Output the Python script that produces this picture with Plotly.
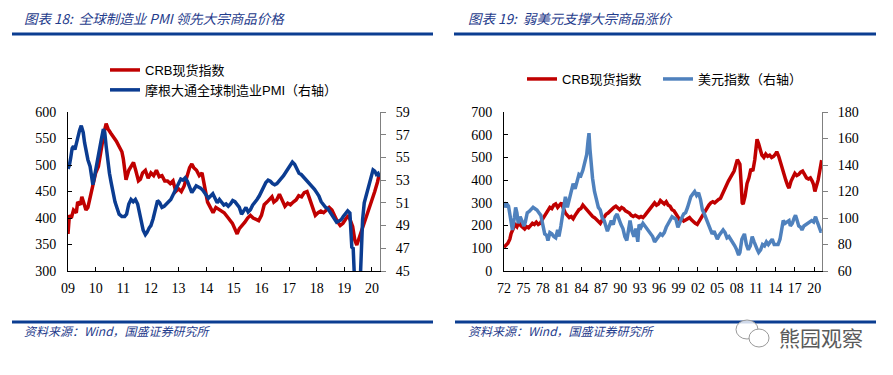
import plotly.graph_objects as go

# ---------------- Left chart data (x in chart-year coordinates) ----------------
crb_l_x = [2009.0, 2009.05, 2009.12, 2009.2, 2009.3, 2009.35, 2009.45, 2009.5, 2009.55, 2009.65,
           2009.72, 2009.8, 2009.9, 2010.0, 2010.1, 2010.2, 2010.3, 2010.38, 2010.45, 2010.55,
           2010.65, 2010.75, 2010.85, 2010.95, 2011.0, 2011.05, 2011.1, 2011.2, 2011.3, 2011.37,
           2011.45, 2011.55, 2011.62, 2011.7, 2011.8, 2011.9, 2012.0, 2012.1, 2012.2, 2012.3,
           2012.4, 2012.5, 2012.6, 2012.7, 2012.8, 2012.9, 2013.0, 2013.1, 2013.2, 2013.3,
           2013.4, 2013.48, 2013.55, 2013.65, 2013.75, 2013.85, 2013.95, 2014.05, 2014.15, 2014.25,
           2014.35, 2014.5, 2014.65, 2014.8, 2014.95, 2015.05, 2015.12, 2015.2, 2015.3, 2015.4,
           2015.5, 2015.6, 2015.7, 2015.8, 2015.9, 2016.0, 2016.1, 2016.2, 2016.3, 2016.38,
           2016.45, 2016.55, 2016.65, 2016.75, 2016.85, 2016.95, 2017.05, 2017.15, 2017.25, 2017.35,
           2017.45, 2017.55, 2017.65, 2017.72, 2017.8, 2017.88, 2017.95, 2018.05, 2018.15, 2018.25,
           2018.35, 2018.45, 2018.55, 2018.65, 2018.75, 2018.85, 2018.95, 2019.05, 2019.15, 2019.22,
           2019.3, 2019.38, 2019.45, 2019.52, 2019.6, 2019.7, 2019.8, 2019.9, 2020.0, 2020.1,
           2020.2, 2020.27]
crb_l_y = [370, 405, 400, 415, 410, 430, 425, 440, 432, 415,
           420, 440, 465, 485, 497, 530, 560, 578, 568, 560,
           553, 545, 535, 525, 512, 490, 472, 490, 500, 505,
           490, 470, 473, 485, 490, 475, 485, 480, 490, 478,
           480, 470, 470, 465, 470, 450, 455, 450, 460, 475,
           495, 502, 495, 490, 480, 485, 460, 430, 420, 410,
           420, 415, 410, 400, 390, 378, 370, 380, 385, 392,
           400, 405, 400, 398, 395, 405, 425, 430, 435, 440,
           430, 434, 445, 432, 422, 428, 425, 430, 434, 442,
           440, 448, 450, 440, 428, 412, 405, 410, 413, 410,
           416, 420, 415, 402, 393, 386, 390, 398, 405, 395,
           384, 358, 349, 360, 372, 390, 405, 418, 434, 450,
           468, 484]

pmi_x = [2009.0, 2009.05, 2009.1, 2009.15, 2009.2, 2009.25, 2009.3, 2009.35, 2009.42, 2009.48,
         2009.55, 2009.6, 2009.66, 2009.72, 2009.8, 2009.86, 2009.9, 2009.95, 2010.0, 2010.06,
         2010.12, 2010.2, 2010.28, 2010.33, 2010.38, 2010.44, 2010.5, 2010.56, 2010.62, 2010.7,
         2010.78, 2010.85, 2010.95, 2011.05, 2011.12, 2011.2, 2011.28, 2011.36, 2011.44, 2011.52,
         2011.58, 2011.65, 2011.72, 2011.8, 2011.86, 2011.94, 2012.0, 2012.08, 2012.16, 2012.24,
         2012.32, 2012.4, 2012.48, 2012.56, 2012.64, 2012.72, 2012.8, 2012.9, 2013.0, 2013.08,
         2013.16, 2013.24, 2013.32, 2013.4, 2013.48, 2013.56, 2013.64, 2013.72, 2013.8, 2013.88,
         2014.0, 2014.08, 2014.16, 2014.24, 2014.32, 2014.4, 2014.48, 2014.56, 2014.64, 2014.72,
         2014.8, 2014.88, 2014.96, 2015.04, 2015.12, 2015.2, 2015.28, 2015.36, 2015.44, 2015.52,
         2015.6, 2015.68, 2015.76, 2015.84, 2015.92, 2016.0, 2016.08, 2016.16, 2016.24, 2016.32,
         2016.4, 2016.48, 2016.56, 2016.64, 2016.72, 2016.8, 2016.88, 2016.96, 2017.04, 2017.12,
         2017.2, 2017.28, 2017.36, 2017.44, 2017.52, 2017.6, 2017.68, 2017.76, 2017.84, 2017.92,
         2018.0, 2018.08, 2018.16, 2018.24, 2018.32, 2018.4, 2018.48, 2018.56, 2018.64, 2018.72,
         2018.8, 2018.88, 2018.96, 2019.04, 2019.12, 2019.2, 2019.24, 2019.27, 2019.32, 2019.36,
         2019.4, 2019.45, 2019.5, 2019.54, 2019.58, 2019.62, 2019.66, 2019.72, 2019.8, 2019.88,
         2019.96, 2020.04, 2020.1, 2020.16, 2020.22, 2020.27]
pmi_y = [54.0, 54.3, 55.0, 55.8, 56.0, 55.7, 56.2, 56.8, 57.4, 57.8,
         57.2, 56.3, 55.5, 54.8, 54.2, 53.4, 52.6, 53.2, 53.9, 54.8,
         55.8, 56.5, 57.5, 57.2, 56.0, 54.5, 53.6, 52.8, 52.0, 51.1,
         50.5, 50.0, 49.8, 49.8, 50.0, 50.9, 51.3, 51.1, 51.3, 50.9,
         50.2, 49.3, 48.6, 48.2, 48.4, 48.8, 49.0, 49.6, 50.4, 51.2,
         51.0, 50.6, 50.7, 50.9, 51.0, 51.3, 51.7, 52.2, 52.8, 53.1,
         53.0, 53.2, 52.9, 52.3, 51.9, 52.2, 52.5, 52.4, 52.3, 52.1,
         51.6, 51.4, 51.6, 51.8, 51.4, 51.0, 51.3, 51.0, 50.8, 50.9,
         50.7, 50.9, 51.2, 51.1, 50.8, 50.6, 50.0, 50.3, 50.6, 50.2,
         50.4, 50.8, 51.0, 51.3, 51.6, 52.0, 52.5, 52.8, 53.0, 52.9,
         52.7, 52.6, 52.7, 52.9, 53.1, 53.4, 53.7, 54.0, 54.3, 54.6,
         54.4, 53.9, 53.6, 53.5, 53.3, 53.1, 52.9, 52.6, 52.4, 52.2,
         51.9, 51.6, 51.1, 50.8, 50.6, 50.5, 50.2, 49.8, 49.5, 49.3,
         49.4, 49.5, 49.8, 50.0, 50.3, 50.1, 48.5, 47.1, 47.0, 44.0,
         40.0, 39.6, 40.0, 42.0, 45.0, 47.7, 49.5, 51.0, 51.8, 52.5,
         53.3, 53.9, 53.8, 53.5, 53.6, 53.3]

left_xticks = list(range(2009, 2021))
left_xlabels = ["09", "10", "11", "12", "13", "14", "15", "16", "17", "18", "19", "20"]

# ---------------- Right chart data ----------------
crb_r_x = [1972.0, 1972.3, 1972.6, 1972.9, 1973.1, 1973.4, 1973.7, 1974.0, 1974.3, 1974.6,
           1974.9, 1975.2, 1975.5, 1975.8, 1976.1, 1976.4, 1976.7, 1977.0, 1977.3, 1977.6,
           1977.9, 1978.2, 1978.5, 1978.8, 1979.1, 1979.4, 1979.7, 1980.0, 1980.3, 1980.6,
           1980.9, 1981.2, 1981.5, 1981.8, 1982.1, 1982.4, 1982.7, 1983.0, 1983.3, 1983.6,
           1983.9, 1984.2, 1984.5, 1984.8, 1985.1, 1985.4, 1985.7, 1986.0, 1986.3, 1986.6,
           1986.9, 1987.2, 1987.5, 1987.8, 1988.1, 1988.4, 1988.7, 1989.0, 1989.3, 1989.6,
           1989.9, 1990.2, 1990.5, 1990.8, 1991.1, 1991.4, 1991.7, 1992.0, 1992.3, 1992.6,
           1992.9, 1993.2, 1993.5, 1993.8, 1994.1, 1994.4, 1994.7, 1995.0, 1995.3, 1995.6,
           1995.9, 1996.2, 1996.5, 1996.8, 1997.1, 1997.4, 1997.7, 1998.0, 1998.3, 1998.6,
           1998.9, 1999.2, 1999.5, 1999.8, 2000.1, 2000.4, 2000.7, 2001.0, 2001.3, 2001.6,
           2001.9, 2002.2, 2002.5, 2002.8, 2003.1, 2003.4, 2003.7, 2004.0, 2004.3, 2004.6,
           2004.9, 2005.2, 2005.5, 2005.8, 2006.1, 2006.4, 2006.7, 2007.0, 2007.3, 2007.6,
           2007.9, 2008.1, 2008.3, 2008.5, 2008.7, 2008.85, 2009.0, 2009.3, 2009.6, 2009.9,
           2010.2, 2010.5, 2010.8, 2011.0, 2011.15, 2011.4, 2011.6, 2011.9, 2012.2, 2012.5,
           2012.8, 2013.1, 2013.4, 2013.7, 2014.0, 2014.2, 2014.5, 2014.8, 2015.0, 2015.3,
           2015.6, 2015.9, 2016.1, 2016.4, 2016.7, 2017.0, 2017.3, 2017.6, 2017.9, 2018.2,
           2018.5, 2018.8, 2019.1, 2019.4, 2019.7, 2019.9, 2020.1, 2020.3, 2020.6, 2020.85,
           2021.05, 2021.15]
crb_r_y = [105, 112, 122, 140, 165, 185, 205, 195, 215, 200,
           190, 185, 195, 190, 200, 210, 205, 215, 205, 210,
           225, 240, 255, 270, 280, 275, 290, 295, 280, 290,
           300, 275, 255, 245, 235, 240, 230, 245, 260, 270,
           275, 290, 280, 270, 255, 250, 240, 235, 225, 215,
           210, 225, 240, 250, 255, 265, 270, 280, 285, 275,
           270, 280, 275, 265, 260, 255, 245, 240, 245, 240,
           235, 240, 235, 245, 255, 270, 280, 290, 300, 290,
           295, 310, 300, 295, 305, 290, 285, 270, 265, 250,
           240, 225, 230, 220, 225, 230, 235, 225, 215, 210,
           205, 220, 235, 250, 260, 275, 290, 300, 305, 300,
           310, 315, 320, 340, 355, 380, 395, 410, 425, 440,
           470, 490, 480, 470, 380, 300, 295, 330, 385, 410,
           450, 440, 490, 540, 580, 560, 540, 510, 500, 515,
           505, 510, 500, 505, 515, 525, 505, 475, 450, 425,
           400, 375, 365, 395, 415, 430, 420, 425, 435, 440,
           425, 410, 405, 410, 395, 380, 350, 370, 400, 440,
           470, 488]

usd_x = [1972.0, 1972.2, 1972.4, 1972.7, 1972.9, 1973.1, 1973.3, 1973.6, 1973.8, 1974.0,
         1974.2, 1974.5, 1974.8, 1975.1, 1975.3, 1975.6, 1975.9, 1976.2, 1976.5, 1976.8,
         1977.1, 1977.4, 1977.7, 1978.0, 1978.3, 1978.6, 1978.8, 1979.1, 1979.4, 1979.7,
         1980.0, 1980.3, 1980.5, 1980.8, 1981.0, 1981.3, 1981.5, 1981.8, 1982.1, 1982.4,
         1982.7, 1983.0, 1983.3, 1983.6, 1983.9, 1984.2, 1984.5, 1984.8, 1985.0, 1985.15,
         1985.3, 1985.5, 1985.7, 1986.0, 1986.3, 1986.6, 1986.9, 1987.2, 1987.5, 1987.8,
         1988.0, 1988.3, 1988.6, 1988.9, 1989.2, 1989.5, 1989.8, 1990.1, 1990.4, 1990.7,
         1991.0, 1991.3, 1991.5, 1991.8, 1992.1, 1992.4, 1992.7, 1992.9, 1993.2, 1993.5,
         1993.8, 1994.1, 1994.4, 1994.7, 1995.0, 1995.3, 1995.6, 1995.9, 1996.2, 1996.5,
         1996.8, 1997.1, 1997.4, 1997.7, 1998.0, 1998.3, 1998.6, 1998.9, 1999.2, 1999.5,
         1999.8, 2000.1, 2000.4, 2000.7, 2000.9, 2001.2, 2001.5, 2001.8, 2002.1, 2002.4,
         2002.7, 2003.0, 2003.3, 2003.6, 2003.9, 2004.2, 2004.5, 2004.8, 2005.0, 2005.3,
         2005.6, 2005.9, 2006.2, 2006.5, 2006.8, 2007.1, 2007.4, 2007.7, 2008.0, 2008.3,
         2008.5, 2008.8, 2009.0, 2009.2, 2009.5, 2009.8, 2010.1, 2010.4, 2010.7, 2010.9,
         2011.2, 2011.4, 2011.7, 2012.0, 2012.3, 2012.6, 2012.9, 2013.2, 2013.5, 2013.8,
         2014.1, 2014.4, 2014.7, 2014.9, 2015.2, 2015.5, 2015.8, 2016.1, 2016.3, 2016.6,
         2016.9, 2017.1, 2017.3, 2017.6, 2017.9, 2018.1, 2018.4, 2018.7, 2019.0, 2019.3,
         2019.6, 2019.9, 2020.2, 2020.4, 2020.7, 2021.0, 2021.15]
usd_y = [112, 108, 111, 109, 103, 96, 91, 100, 108, 104,
         96, 101, 98, 94, 97, 104, 105, 107, 108, 107,
         106, 104, 102, 95, 88, 87, 83, 89, 88, 86,
         85, 91, 86, 94, 100, 112, 116, 108, 114, 120,
         126, 122, 128, 133, 132, 136, 142, 148, 158, 164,
         152, 140, 130, 120, 114, 108, 106, 100, 98, 94,
         90, 94, 98, 95, 101, 103, 98, 95, 92, 86,
         83, 95, 98, 90, 86, 92, 82, 95, 93, 96,
         94, 92, 89, 87, 86, 82, 84, 86, 88, 87,
         89, 93, 96, 98, 101, 100, 99, 93, 97, 100,
         103, 104, 108, 113, 116, 118, 120, 117, 119, 114,
         106, 103, 99, 95, 92, 88, 90, 86, 84, 87,
         89, 91, 89, 85, 86, 84, 82, 79, 76, 72,
         74, 84, 86, 88, 80, 76, 79, 86, 82, 79,
         76, 74, 76, 80, 79, 82, 80, 82, 84, 80,
         80, 80, 84, 90, 98, 96, 97, 98, 94, 96,
         100, 102, 99, 94, 93, 91, 94, 95, 96, 97,
         98, 97, 101, 98, 93, 90, 90]

right_xticks = list(range(1972, 2021, 3))
right_xlabels = ["72", "75", "78", "81", "84", "87", "90", "93", "96", "99",
                 "02", "05", "08", "11", "14", "17", "20"]

# ---------------- Figure ----------------
# The page body has an 8px margin, so the figure is sized to fit the 893x375 window
# and every position below is given in window pixels, then converted.
OFF = 8
W, H = 893 - OFF, 375 - OFF
RED = "#C00000"
NAVY = "#0B3C91"
STEEL = "#4F81BD"
TITLE_C = "#1F3C8C"
RULE_C = "#0B3D91"
NUM_FONT = dict(family="Liberation Serif, Times New Roman, serif", size=14, color="#000000")
TXT_FONT = dict(family="Liberation Sans, Noto Sans CJK SC, sans-serif", size=13, color="#000000")

def px(x):
    return (x - OFF) / W

def py(y):
    return 1 - (y - OFF) / H

ydom = [py(271), py(112)]

fig = go.Figure()
fig.add_trace(go.Scatter(x=crb_l_x, y=crb_l_y, name="CRB现货指数", mode="lines",
                         line=dict(color=RED, width=3.5), xaxis="x", yaxis="y", legend="legend"))
fig.add_trace(go.Scatter(x=pmi_x, y=pmi_y, name="摩根大通全球制造业PMI（右轴）", mode="lines",
                         line=dict(color=NAVY, width=3.5), xaxis="x", yaxis="y2", legend="legend"))
fig.add_trace(go.Scatter(x=crb_r_x, y=crb_r_y, name="CRB现货指数", mode="lines",
                         line=dict(color=RED, width=3.5), xaxis="x3", yaxis="y3", legend="legend2"))
fig.add_trace(go.Scatter(x=usd_x, y=usd_y, name="美元指数（右轴）", mode="lines",
                         line=dict(color=STEEL, width=3.5), xaxis="x3", yaxis="y4", legend="legend2"))

xcommon = dict(showline=True, linecolor="#000000", linewidth=1, ticks="inside", ticklen=4,
               tickcolor="#000000", showgrid=False, zeroline=False, tickfont=NUM_FONT,
               ticklabelstandoff=4, automargin=False)
yleft = dict(showline=True, linecolor="#000000", linewidth=1, ticks="inside", ticklen=4,
             tickcolor="#000000", showgrid=False, zeroline=False, tickfont=NUM_FONT,
             ticklabelstandoff=8, automargin=False)
yright = dict(showline=True, linecolor="#808080", linewidth=1, ticks="outside", ticklen=5,
              tickcolor="#808080", showgrid=False, zeroline=False, tickfont=NUM_FONT,
              side="right", ticklabelstandoff=7, automargin=False)

fig.update_layout(
    template="none",
    width=W, height=H, autosize=False,
    margin=dict(l=0, r=0, t=0, b=0, pad=0, autoexpand=False),
    paper_bgcolor="white", plot_bgcolor="white",
    xaxis=dict(domain=[px(68), px(380)], anchor="y", range=[2009, 2020.29],
               tickvals=left_xticks, ticktext=left_xlabels, **xcommon),
    yaxis=dict(domain=ydom, anchor="x", range=[300, 600], tickvals=[300, 350, 400, 450, 500, 550, 600], **yleft),
    yaxis2=dict(overlaying="y", anchor="x", range=[45, 59], tickvals=[45, 47, 49, 51, 53, 55, 57, 59], **yright),
    xaxis3=dict(domain=[px(504), px(822)], anchor="y3", range=[1972, 2021.2],
                tickvals=right_xticks, ticktext=right_xlabels, **xcommon),
    yaxis3=dict(domain=ydom, anchor="x3", range=[0, 700], tickvals=[0, 100, 200, 300, 400, 500, 600, 700], **yleft),
    yaxis4=dict(overlaying="y3", anchor="x3", range=[60, 180], tickvals=[60, 80, 100, 120, 140, 160, 180], **yright),
    legend=dict(x=px(105), y=py(55), xanchor="left", yanchor="top", orientation="v",
                font=TXT_FONT, bgcolor="rgba(0,0,0,0)", itemwidth=30, tracegroupgap=0),
    legend2=dict(x=px(522), y=py(64), xanchor="left", yanchor="top", orientation="h",
                 font=TXT_FONT, bgcolor="rgba(0,0,0,0)", itemwidth=30,
                 entrywidth=91, entrywidthmode="pixels"),
    showlegend=True,
)

title_font = dict(family="Noto Sans CJK SC, sans-serif", size=13.5, color=TITLE_C, style="italic")
src_font = dict(family="Noto Sans CJK SC, sans-serif", size=12, color=TITLE_C, style="italic")

fig.add_annotation(text="图表 18:  全球制造业 PMI 领先大宗商品价格", x=px(22), y=py(18), xref="paper", yref="paper",
                   xanchor="left", yanchor="middle", showarrow=False, font=title_font)
fig.add_annotation(text="图表 19:  弱美元支撑大宗商品涨价", x=px(466), y=py(18), xref="paper", yref="paper",
                   xanchor="left", yanchor="middle", showarrow=False, font=title_font)
fig.add_annotation(text="资料来源：Wind，国盛证券研究所", x=px(22), y=py(330), xref="paper", yref="paper",
                   xanchor="left", yanchor="middle", showarrow=False, font=src_font)
fig.add_annotation(text="资料来源：Wind，国盛证券研究所", x=px(466), y=py(330), xref="paper", yref="paper",
                   xanchor="left", yanchor="middle", showarrow=False, font=src_font)
fig.add_annotation(text="熊园观察", x=px(777), y=py(337), xref="paper", yref="paper",
                   xanchor="left", yanchor="middle", showarrow=False,
                   font=dict(family="Noto Sans CJK SC, sans-serif", size=21, color="#5a5a5a"))

rules = [(12, 433, 34), (454, 876, 34), (12, 433, 322), (455, 876, 322)]
for x0, x1, yy in rules:
    fig.add_shape(type="line", xref="paper", yref="paper", x0=px(x0), x1=px(x1), y0=py(yy), y1=py(yy),
                  line=dict(color=RULE_C, width=3))

# simple WeChat-like icon outline
fig.add_shape(type="circle", xref="paper", yref="paper", x0=px(736), x1=px(758), y0=py(339), y1=py(320),
              line=dict(color="#9a9a9a", width=1), fillcolor="rgba(255,255,255,0.8)")
fig.add_shape(type="circle", xref="paper", yref="paper", x0=px(749), x1=px(769), y0=py(347), y1=py(329),
              line=dict(color="#9a9a9a", width=1), fillcolor="white")

fig.write_html("out.html")
